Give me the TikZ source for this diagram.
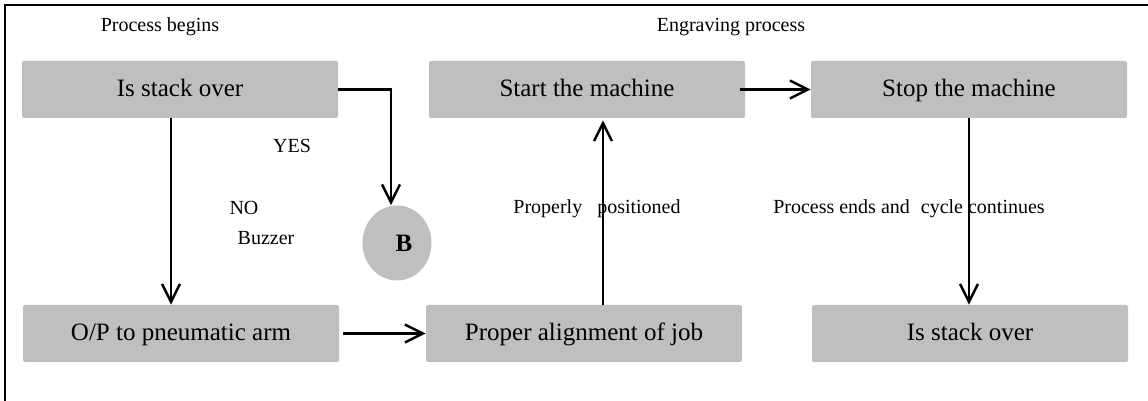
\documentclass[tikz,border=0pt]{standalone}
\usepackage{fontspec}
\setmainfont{Liberation Serif}
\usetikzlibrary{arrows.meta,shapes.geometric}
\definecolor{boxgray}{RGB}{191,191,191}
\tikzset{
  stepbox/.style={fill=boxgray, rounded corners=1pt, minimum width=158pt, minimum height=28.5pt,
    inner sep=0pt, text height=0.68em, text depth=0pt, font=\fontsize{12.5}{15}\selectfont, anchor=center},
  bubble/.style={ellipse, fill=boxgray, minimum width=34.5pt, minimum height=37.5pt, inner sep=0pt,
    font=\fontsize{12.5}{15}\selectfont\bfseries},
  lbl/.style={font=\fontsize{10}{12}\selectfont, anchor=base, inner sep=0pt},
  arr/.style={line width=1.2pt, -{Straight Barb[length=9pt,width=9pt,line width=1.2pt]}},
  frame/.style={line width=1.1pt}
}
\begin{document}
\begin{tikzpicture}[x=0.5pt,y=-0.5pt]
\useasboundingbox (0,0) rectangle (1148,401);
% frame
\coordinate (fl) at (5,401);
\coordinate (fc) at (5,5);
\coordinate (fr) at (1148,5);
\draw[frame] (fl) -- (fc) -- (fr);
% boxes
\node[stepbox] (b1) at (180,89.5) {Is stack over};
\node[stepbox] (b2) at (181,333.5) {O/P to pneumatic arm};
\node[stepbox] (b3) at (587,89.5) {Start the machine};
\node[stepbox] (b4) at (584,333.5) {Proper alignment of job};
\node[stepbox] (b5) at (969,89.5) {Stop the machine};
\node[stepbox] (b6) at (970,333.5) {Is stack over};
\node[bubble] (B) at (397,243) {\hspace{7pt}B};
% labels
\node[lbl] (t1) at (160,32) {Process begins};
\node[lbl] (t2) at (731,32) {Engraving process};
\node[lbl] (t3) at (292,153) {YES};
\node[lbl] (t4) at (244,215) {NO};
\node[lbl] (t5) at (266,245) {Buzzer};
\node[lbl] (t6) at (597,214) {Properly\hspace{5pt} positioned};
\node[lbl] (t7) at (909,214) {Process ends and\hspace{3pt} cycle continues};
% connectors
\draw[arr] (b1.east) -| ([xshift=-3pt]B.north);
\draw[arr] ([xshift=-4.5pt]b1.south) -- ([xshift=-4.5pt]b1.south |- b2.north);
\draw[arr] ([xshift=2pt]b2.east) -- (b4.west);
\draw[arr] ([xshift=9.5pt]b4.north) -- ([xshift=9.5pt,yshift=-1pt]b4.north |- b3.south);
\draw[arr] ([xshift=-2.5pt]b3.east) -- (b5.west);
\draw[arr] (b5.south) -- (b5.south |- b6.north);
\end{tikzpicture}
\end{document}
